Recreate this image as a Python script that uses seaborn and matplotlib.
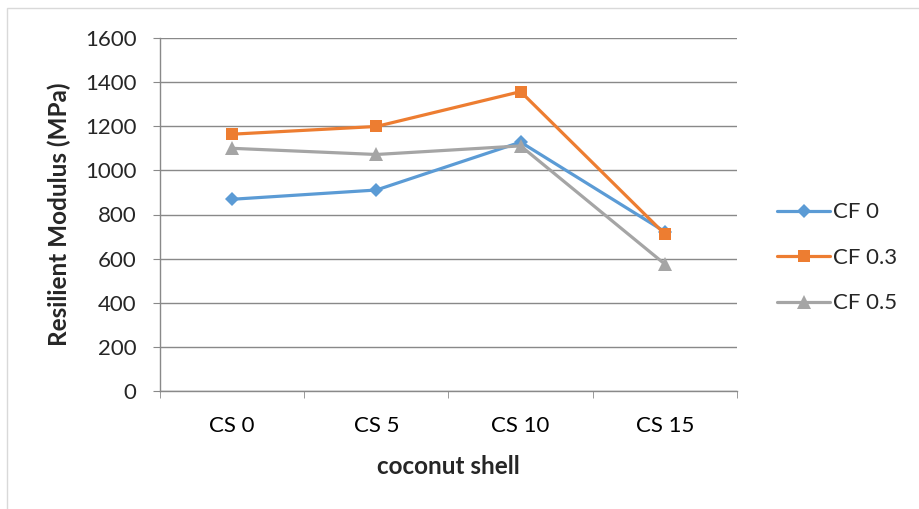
import matplotlib
matplotlib.use("Agg")
import matplotlib.pyplot as plt
import seaborn as sns
import pandas as pd
from matplotlib.patches import Rectangle

# values
categories = ["CS 0", "CS 5", "CS 10", "CS 15"]
cf_0 = [869, 911, 1128, 722]
cf_03 = [1164, 1199, 1357, 711]
cf_05 = [1100, 1072, 1111, 575]
series_names = ["CF 0", "CF 0.3", "CF 0.5"]

rows = []
for name, vals in zip(series_names, [cf_0, cf_03, cf_05]):
    for i, v in enumerate(vals):
        rows.append({"pos": i, "cat": categories[i], "series": name, "value": v})
df = pd.DataFrame(rows)

sns.set_style("white")
plt.rcParams["font.family"] = ["Lato", "DejaVu Sans"]

fig = plt.figure(figsize=(9.2, 5.09), dpi=100)
ax = fig.add_axes([160 / 920, 1 - 391 / 509, (737 - 160) / 920, (391 - 38) / 509])

palette = {"CF 0": "#5B9BD5", "CF 0.3": "#ED7D31", "CF 0.5": "#A5A5A5"}
markers = {"CF 0": "D", "CF 0.3": "s", "CF 0.5": "^"}
sns.lineplot(data=df, x="pos", y="value", hue="series", style="series",
             palette=palette, markers=markers, dashes=False, linewidth=2.3,
             markersize=9, markeredgewidth=0, ax=ax, legend=True)
# per-series marker sizes
for line in ax.lines:
    if line.get_marker() == "D":
        line.set_markersize(7.5)
    elif line.get_marker() == "^":
        line.set_markersize(10.5)

ax.set_xlim(-0.5, 3.5)
ax.set_ylim(0, 1600)
ax.set_yticks(range(0, 1601, 200))
ax.set_xticks(range(len(categories)))
ax.set_xticklabels(categories)
ax.set_xticks([-0.5, 0.5, 1.5, 2.5, 3.5], minor=True)
ax.tick_params(axis="x", which="major", length=0, labelsize=16, colors="#000000", pad=18)
ax.tick_params(axis="x", which="minor", length=5, color="#898989", direction="out", bottom=True)
ax.tick_params(axis="y", length=5, color="#898989", direction="out", labelsize=16, left=True, pad=12)

ax.grid(axis="y", color="#898989", linewidth=1)
ax.set_axisbelow(True)
for s in ["top", "right"]:
    ax.spines[s].set_visible(False)
for s in ["left", "bottom"]:
    ax.spines[s].set_color("#898989")
    ax.spines[s].set_linewidth(1)

ax.set_xlabel("coconut shell", fontsize=17.5, fontweight="bold", labelpad=14)
ax.set_ylabel("Resilient Modulus (MPa)", fontsize=17.5, fontweight="bold", labelpad=10)

handles, labels = ax.get_legend_handles_labels()
ax.legend(handles, labels, loc="center left", bbox_to_anchor=(1.050, 0.377), frameon=False,
          fontsize=16, handlelength=2.4, labelspacing=1.15, handletextpad=0.12, borderpad=0)

fig.patches.append(Rectangle((7 / 920, -0.01), 1.2, 1 - 8 / 509 + 0.01, transform=fig.transFigure,
                             fill=False, edgecolor="#D9D9D9", linewidth=1))

fig.savefig("out.png", dpi=100)
